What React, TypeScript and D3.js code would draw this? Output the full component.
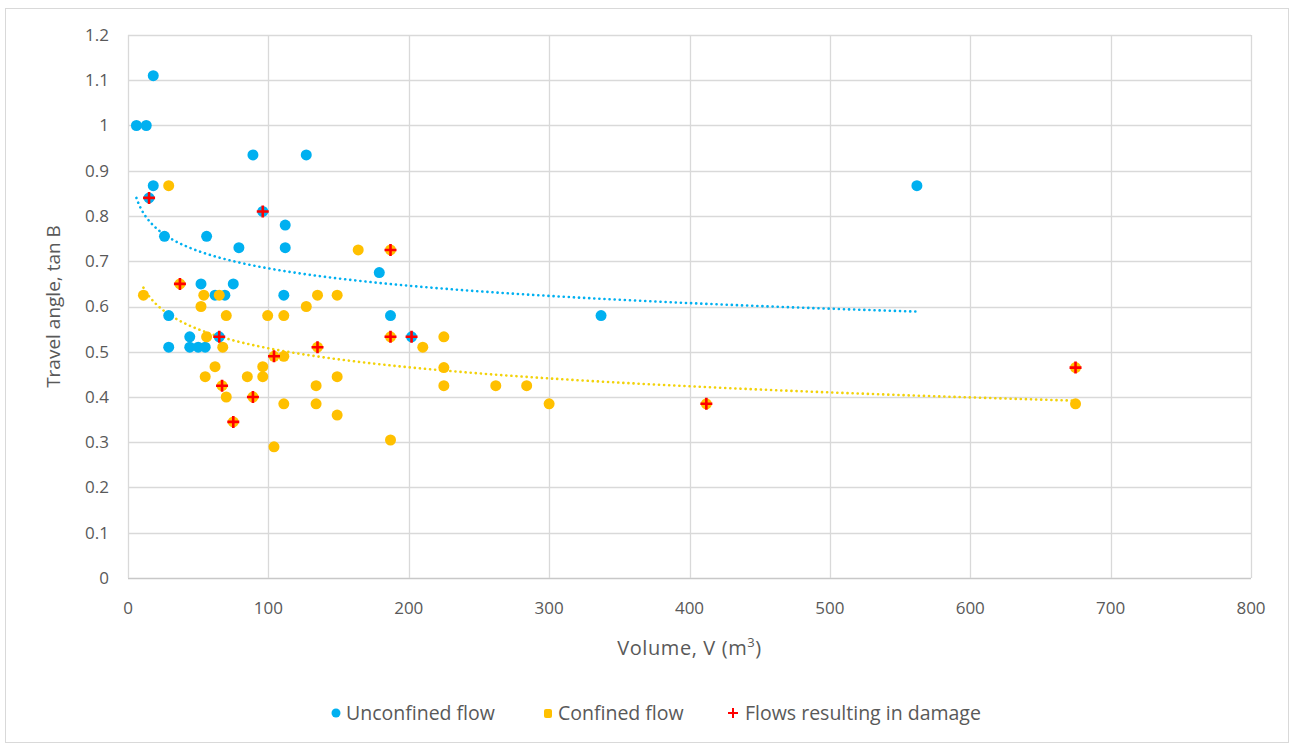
import React, { useEffect, useRef } from 'react';
import * as d3 from 'd3';

// Unconfined flow points [volume, tan B]
const unconfinedV = [6, 13, 18, 18, 15, 26, 56, 79, 112, 112, 96, 89, 127, 562, 179, 187, 202, 337, 52, 75, 62, 69, 111, 29, 44, 65, 29, 44, 50, 55];
const unconfinedT = [1.0, 1.0, 1.11, 0.867, 0.84, 0.755, 0.755, 0.73, 0.73, 0.78, 0.81, 0.935, 0.935, 0.867, 0.675, 0.58, 0.533, 0.58, 0.65, 0.65, 0.625, 0.625, 0.625, 0.58, 0.533, 0.533, 0.51, 0.51, 0.51, 0.51];

// Confined flow points
const confinedV = [11, 29, 37, 54, 52, 65, 70, 99.5, 111, 135, 127, 149, 56, 67.5, 62, 55, 67, 70, 89, 75, 85, 96, 96, 104, 111, 111, 135, 134, 134, 104, 164, 187, 187, 210, 225, 149, 225, 225, 149, 187, 262, 284, 300, 412, 675, 675];
const confinedT = [0.625, 0.867, 0.65, 0.625, 0.60, 0.625, 0.58, 0.58, 0.58, 0.625, 0.60, 0.625, 0.533, 0.51, 0.467, 0.445, 0.425, 0.40, 0.40, 0.345, 0.445, 0.467, 0.445, 0.49, 0.49, 0.385, 0.51, 0.425, 0.385, 0.29, 0.725, 0.725, 0.533, 0.51, 0.533, 0.445, 0.465, 0.425, 0.36, 0.305, 0.425, 0.425, 0.385, 0.385, 0.465, 0.385];

// Flows resulting in damage
const damageV = [15, 96, 37, 65, 67, 89, 75, 104, 135, 187, 187, 202, 412, 675];
const damageT = [0.84, 0.81, 0.65, 0.533, 0.425, 0.40, 0.345, 0.49, 0.51, 0.725, 0.533, 0.533, 0.385, 0.465];

const xTicks = [0, 100, 200, 300, 400, 500, 600, 700, 800];
const yTicks = [0, 0.1, 0.2, 0.3, 0.4, 0.5, 0.6, 0.7, 0.8, 0.9, 1, 1.1, 1.2];
const legendLabels = ['Unconfined flow', 'Confined flow', 'Flows resulting in damage'];

const BLUE = '#00B0F0';
const ORANGE = '#FFC000';
const RED = '#FF0000';
const FONT = '"Open Sans", "Noto Sans", sans-serif';

// least squares fit of y = a + b ln(x), the way Excel makes a log trendline
const logFit = (xs: number[], ys: number[]) => {
  const lx = xs.map(Math.log);
  const mx = d3.mean(lx) as number;
  const my = d3.mean(ys) as number;
  let num = 0, den = 0;
  lx.forEach((v, i) => { num += (v - mx) * (ys[i] - my); den += (v - mx) * (v - mx); });
  const b = num / den;
  return { a: my - b * mx, b };
};

const App = () => {
  const svgRef = useRef<SVGSVGElement>(null);

  useEffect(() => {
    const W = 1297, H = 749;
    const m = { left: 128, right: 46, top: 35, bottom: 171 };
    const svg = d3.select(svgRef.current).attr('width', W).attr('height', H);
    svg.selectAll('*').remove();

    svg.append('rect')
      .attr('x', 5.5).attr('y', 8.5).attr('width', 1283).attr('height', 734)
      .attr('fill', '#fff').attr('stroke', '#d9d9d9');

    const x = d3.scaleLinear().domain([0, 800]).range([m.left, W - m.right]);
    const y = d3.scaleLinear().domain([0, 1.2]).range([H - m.bottom, m.top]);

    // gridlines
    svg.append('g').selectAll('line').data(yTicks).join('line')
      .attr('x1', x(0)).attr('x2', x(800))
      .attr('y1', d => Math.round(y(d)) + 0.5).attr('y2', d => Math.round(y(d)) + 0.5)
      .attr('stroke', d => d === 0 ? '#c8c8c8' : '#d9d9d9').attr('stroke-width', 1.3);
    svg.append('g').selectAll('line').data(xTicks).join('line')
      .attr('x1', d => Math.round(x(d)) + 0.5).attr('x2', d => Math.round(x(d)) + 0.5)
      .attr('y1', y(0)).attr('y2', y(1.2))
      .attr('stroke', '#d9d9d9').attr('stroke-width', 1.3);

    // tick labels
    svg.append('g').selectAll('text').data(yTicks).join('text')
      .attr('x', x(0) - 19).attr('y', d => y(d)).attr('dy', '0.35em')
      .attr('text-anchor', 'end').attr('fill', '#595959')
      .style('font-family', FONT).style('font-size', '17px')
      .text(d => d3.format('~g')(d));
    svg.append('g').selectAll('text').data(xTicks).join('text')
      .attr('x', d => x(d)).attr('y', y(0) + 36)
      .attr('text-anchor', 'middle').attr('fill', '#595959')
      .style('font-family', FONT).style('font-size', '17px')
      .text(d => String(d));

    // axis titles
    svg.append('text')
      .attr('transform', `translate(60, ${(y(0) + y(1.2)) / 2}) rotate(-90)`)
      .attr('text-anchor', 'middle').attr('fill', '#595959')
      .style('font-family', FONT).style('font-size', '19px')
      .text('Travel angle, tan B');
    const xt = svg.append('text')
      .attr('x', x(400)).attr('y', y(0) + 77)
      .attr('text-anchor', 'middle').attr('fill', '#595959')
      .style('font-family', FONT).style('font-size', '20px').style('letter-spacing', '0.6px');
    xt.append('tspan').text('Volume, V (m');
    xt.append('tspan').attr('font-size', '13px').attr('dy', '-8').text('3');
    xt.append('tspan').attr('dy', '8').text(')');

    // trendlines
    const trend = (xs: number[], ys: number[], color: string) => {
      const { a, b } = logFit(xs, ys);
      const [lo, hi] = d3.extent(xs) as [number, number];
      const pts = d3.range(0, 201).map(i => lo * Math.pow(hi / lo, i / 200));
      const line = d3.line<number>().x(v => x(v)).y(v => y(a + b * Math.log(v)));
      svg.append('path').attr('d', line(pts))
        .attr('fill', 'none').attr('stroke', color).attr('stroke-width', 2.6)
        .attr('stroke-dasharray', '0.1 5').attr('stroke-linecap', 'round');
    };
    trend(unconfinedV, unconfinedT, BLUE);
    trend(confinedV, confinedT, '#F2D20A');

    // points
    svg.append('g').selectAll('circle').data(unconfinedV).join('circle')
      .attr('cx', d => x(d)).attr('cy', (d, i) => y(unconfinedT[i])).attr('r', 5.5)
      .attr('fill', BLUE);
    svg.append('g').selectAll('circle').data(confinedV).join('circle')
      .attr('cx', d => x(d)).attr('cy', (d, i) => y(confinedT[i])).attr('r', 5.5)
      .attr('fill', ORANGE);
    svg.append('g').selectAll('path').data(damageV).join('path')
      .attr('d', (d, i) => {
        const cx = x(d), cy = y(damageT[i]);
        return `M${cx - 6},${cy}H${cx + 6}M${cx},${cy - 6}V${cy + 6}`;
      })
      .attr('stroke', RED).attr('stroke-width', 2.6).attr('fill', 'none');

    // legend
    const lg = svg.append('g').style('font-family', FONT).style('font-size', '19.5px');
    const lx = [336, 548, 733];
    lg.append('circle').attr('cx', lx[0]).attr('cy', 713).attr('r', 4.5).attr('fill', BLUE);
    lg.append('rect').attr('x', lx[1] - 4).attr('y', 709).attr('width', 8).attr('height', 9).attr('rx', 2).attr('fill', ORANGE);
    lg.append('path').attr('d', `M${lx[2] - 5},713H${lx[2] + 5}M${lx[2]},708V718`)
      .attr('stroke', RED).attr('stroke-width', 2);
    lg.selectAll('text').data(legendLabels).join('text')
      .attr('x', (d, i) => lx[i] + (i === 2 ? 12 : 10)).attr('y', 713).attr('dy', '0.35em')
      .attr('fill', '#595959').text(d => d);
  }, []);

  return (
    <div style={{ position: 'absolute', left: 0, top: 0 }}>
      <svg ref={svgRef} style={{ display: 'block' }}></svg>
    </div>
  );
};

export default App;
